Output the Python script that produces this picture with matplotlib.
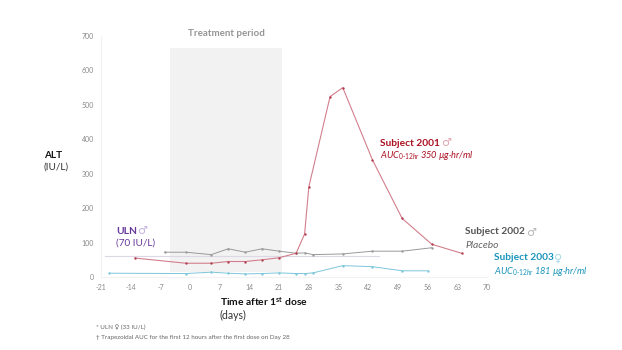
import matplotlib
matplotlib.use('Agg')
import matplotlib.pyplot as plt

plt.rcParams['font.family'] = ['Lato', 'DejaVu Sans']
plt.rcParams['axes.unicode_minus'] = False
plt.rcParams['mathtext.fontset'] = 'custom'
plt.rcParams['mathtext.rm'] = 'Lato'
plt.rcParams['mathtext.it'] = 'Lato:italic'
plt.rcParams['mathtext.bf'] = 'Lato:bold'

#Values
days_2001 = [-13, -1, 5, 9, 13, 17, 21, 25, 27, 28, 33, 36, 43, 50, 57, 64]
alt_2001 = [55, 40, 40, 45, 45, 50, 56, 69, 125, 262, 524, 550, 340, 170, 95, 69]
days_2002 = [-6, -1, 5, 9, 13, 17, 21, 25, 27, 29, 36, 43, 50, 57]
alt_2002 = [72, 72, 65, 82, 72, 82, 75, 69, 70, 65, 67, 75, 75, 85]
days_2003 = [-19, -1, 5, 9, 13, 17, 21, 25, 27, 29, 36, 43, 50, 56]
alt_2003 = [11, 10, 14, 11, 9, 10, 12, 10, 10, 12, 33, 30, 18, 18]
uln_days = [-20, 44.6]
uln_alt = [61, 61]
treatment_days = [-4.7, 21.7]
treatment_alt = [15, 665]
x_ticks = [-21, -14, -7, 0, 7, 14, 21, 28, 35, 42, 49, 56, 63, 70]
y_ticks = [0, 100, 200, 300, 400, 500, 600, 700]

W, H = 622, 350
fig = plt.figure(figsize=(W / 100, H / 100), dpi=100)
ax = fig.add_axes([101 / W, 1 - 277 / H, 386 / W, 241 / H])

ax.fill_between(treatment_days, treatment_alt[0], treatment_alt[1], color='#f2f2f2', lw=0, zorder=1)
ax.plot(uln_days, uln_alt, color='#dcd8e6', lw=0.8, zorder=2)
ax.plot(days_2002, alt_2002, color='#999999', lw=0.7, marker='o', ms=0.7, zorder=3)
ax.plot(days_2003, alt_2003, color='#7cc6da', lw=0.7, marker='o', ms=0.7, zorder=3)
ax.plot(days_2001, alt_2001, color='#d27f8c', lw=0.8, marker='o', ms=0.7, mfc='#b03a4c', mec='#b03a4c', zorder=4)

ax.set_xlim(-21, 70)
ax.set_ylim(0, 700)
ax.set_xticks(x_ticks)
ax.set_yticks(y_ticks)
ax.tick_params(length=0, labelsize=5, labelcolor='#888888', pad=5)
for side in ['top', 'right']:
    ax.spines[side].set_visible(False)
for side in ['left', 'bottom']:
    ax.spines[side].set_color('#f2f2f2')
    ax.spines[side].set_linewidth(0.8)


#Text is placed in picture pixels
def label(x, y, s, **kw):
    fig.text(x / W, 1 - y / H, s, va='center', ha=kw.pop('ha', 'left'), **kw)


label(226, 34, 'Treatment period', ha='center', fontsize=7, fontweight='bold', color='#959595')
label(44, 155, 'ALT', fontsize=7.2, fontweight='bold', color='#111111')
label(44, 167, '(IU/L)', fontsize=7.2, color='#333333')
label(220, 302, r'Time after 1$^{\mathbf{st}}$ dose', fontsize=7.4, fontweight='bold', color='#111111')
label(220, 315, '(days)', fontsize=7.6, color='#333333')
label(96, 327, '* ULN ♀ (33 IU/L)', fontsize=4.5, color='#666666')
label(96, 337, '† Trapezoidal AUC for the first 12 hours after the first dose on Day 28', fontsize=4.5, color='#666666')

label(116, 231, 'ULN', fontsize=7.4, fontweight='bold', color='#67389a')
label(137, 231, '♂', fontsize=8, color='#c3aede')
label(116, 243, '(70 IU/L)', fontsize=7.2, color='#67389a')
label(380, 143, 'Subject 2001', fontsize=7.3, fontweight='bold', color='#ab1022')
label(441, 143, '♂', fontsize=8, color='#e3a3ab')
label(380, 156, r'AUC$_{0‐12hr}$ 350 µg·hr/ml', fontsize=6.7, style='italic', color='#ab1022')
label(465, 232, 'Subject 2002', fontsize=7.3, fontweight='bold', color='#555555')
label(526, 232, '♂', fontsize=8, color='#b5b5b5')
label(465, 245, 'Placebo', fontsize=7.4, style='italic', color='#666666')
label(494, 258, 'Subject 2003', fontsize=7.3, fontweight='bold', color='#1a94bb')
label(554, 258, '♀', fontsize=8, color='#a3d6e5')
label(494, 271, r'AUC$_{0‐12hr}$ 181 µg·hr/ml', fontsize=6.7, style='italic', color='#1a94bb')

fig.savefig('out.png', dpi=100)
